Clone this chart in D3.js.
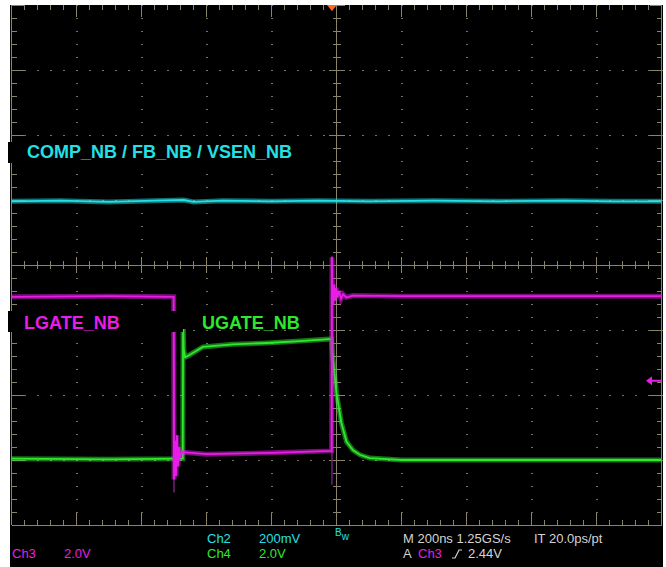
<!DOCTYPE html>
<meta charset="utf-8">
<head>
<title>NB gate waveforms</title>
<script src="https://d3js.org/d3.v7.min.js"></script>
</head>
<style>
body { margin: 0; background: #fff; }
svg { display: block; }
.label { font-family: "Liberation Sans", Arial, sans-serif; font-weight: bold; font-size: 18px; }
.readout { font-family: "Liberation Sans", Arial, sans-serif; font-size: 13px; }
</style>
<body>
<svg></svg>
<script>

// time in ns (200 ns/div), level in screen divisions from the centre line
let compTrace = [
  [-1000, 0.98], [-850, 0.99], [-700, 0.97], [-560, 0.99], [-470, 1.0], [-440, 0.97],
  [-350, 0.99], [-200, 0.98], [-60, 0.99], [100, 0.98], [300, 0.99], [500, 0.98],
  [700, 0.99], [850, 0.98], [1000, 0.98]
];

let lgateTrace = [
  [-1000, -0.49], [-700, -0.48], [-501, -0.49], [-500, -3.3], [-497, -2.7], [-494, -3.25],
  [-491, -2.62], [-488, -3.1], [-485, -2.8], [-481, -2.95], [-476, -2.88], [-400, -2.91],
  [-200, -2.89], [-15, -2.86], [-14, 0.12], [-13, -0.25], [-11, -0.6], [-8, -0.3],
  [-5, -0.55], [-1, -0.35], [3, -0.5], [8, -0.4], [14, -0.52], [20, -0.45], [30, -0.5],
  [50, -0.47], [200, -0.48], [600, -0.48], [1000, -0.48]
];

let ugateTrace = [
  [-1000, -2.98], [-700, -2.99], [-480, -2.98], [-473, -2.98], [-472, -0.85], [-470, -1.3],
  [-466, -1.42], [-451, -1.38], [-411, -1.26], [-319, -1.22], [-214, -1.2], [-113, -1.17],
  [-21, -1.14], [-15, -1.14], [-13, -1.34], [0, -1.97], [15, -2.43], [31, -2.72],
  [51, -2.85], [72, -2.92], [102, -2.97], [200, -3.0], [1000, -3.0]
];

// faint persistence of the LGATE edges: [time, top, bottom]
let lgateEdges = [[-500, -1.0, -3.5], [-14, 0.14, -3.38]];

let traceLabels = ["COMP_NB / FB_NB / VSEN_NB", "LGATE_NB", "UGATE_NB"];
let chanReadout = [["Ch2", "200mV"], ["Ch3", "2.0V"], ["Ch4", "2.0V"]];
let timeReadout = ["M 200ns 1.25GS/s", "IT 20.0ps/pt"];
let trigReadout = ["A", "Ch3", "2.44V"];
let triggerTime = -14;
let ch3Ground = -1.78;

let cyan = "#22e0e6", magenta = "#e81ee8", green = "#2ee82e";
let gridCol = "#8a8468", dotCol = "#77735c", textCol = "#d4d4d4";

let svg = d3.select("svg").attr("width", 666).attr("height", 567);

let x = d3.scaleLinear().domain([-1000, 1000]).range([11.5, 661.5]);
let y = d3.scaleLinear().domain([-4, 4]).range([525, 5]);

svg.append("rect").attr("x", 10).attr("y", 5).attr("width", 653).attr("height", 562).attr("fill", "#000");

// graticule
let grid = svg.append("g").attr("shape-rendering", "crispEdges");
let tMinor = d3.range(-1000, 1000.1, 40);
let vMinor = d3.range(-20, 20.1, 1).map(d => d / 5);
let isMajorT = t => Math.abs(t % 200) < 1e-6;
let isMajorV = v => Math.abs(v - Math.round(v)) < 1e-6;

// dotted lines
d3.range(-800, 801, 200).filter(t => t !== 0).forEach(t => {
  vMinor.forEach(v => grid.append("rect").attr("x", x(t) - 0.5).attr("y", y(v) - 0.5)
    .attr("width", 1.5).attr("height", 1.5).attr("fill", dotCol));
});
d3.range(-3, 4, 1).filter(v => v !== 0).forEach(v => {
  tMinor.forEach(t => grid.append("rect").attr("x", x(t) - 0.5).attr("y", y(v) - 0.5)
    .attr("width", 1.5).attr("height", 1.5).attr("fill", dotCol));
});

// border
grid.append("line").attr("x1", x(-1000)).attr("x2", x(-1000)).attr("y1", y(4)).attr("y2", y(-4)).attr("stroke", gridCol);
grid.append("line").attr("x1", x(1000)).attr("x2", x(1000)).attr("y1", y(4)).attr("y2", y(-4)).attr("stroke", gridCol);
grid.append("line").attr("x1", x(-1000)).attr("x2", x(1000)).attr("y1", y(-4)).attr("y2", y(-4)).attr("stroke", gridCol);

// edge ticks
vMinor.forEach(v => {
  let len = isMajorV(v) ? 12 : 5;
  grid.append("line").attr("x1", x(-1000)).attr("x2", x(-1000) + len).attr("y1", y(v)).attr("y2", y(v)).attr("stroke", gridCol);
  grid.append("line").attr("x1", x(1000)).attr("x2", x(1000) - len).attr("y1", y(v)).attr("y2", y(v)).attr("stroke", gridCol);
});
tMinor.forEach(t => {
  let len = isMajorT(t) ? 12 : 5;
  grid.append("line").attr("x1", x(t)).attr("x2", x(t)).attr("y1", y(4)).attr("y2", y(4) + len).attr("stroke", gridCol);
  grid.append("line").attr("x1", x(t)).attr("x2", x(t)).attr("y1", y(-4)).attr("y2", y(-4) - len).attr("stroke", gridCol);
});

// centre cross
grid.append("line").attr("x1", x(-1000)).attr("x2", x(1000)).attr("y1", y(0)).attr("y2", y(0)).attr("stroke", gridCol);
grid.append("line").attr("x1", x(0)).attr("x2", x(0)).attr("y1", y(4)).attr("y2", y(-4)).attr("stroke", gridCol);
tMinor.forEach(t => {
  let h = isMajorT(t) ? 8 : 4;
  grid.append("line").attr("x1", x(t)).attr("x2", x(t)).attr("y1", y(0) - h).attr("y2", y(0) + h).attr("stroke", gridCol);
});
vMinor.forEach(v => {
  let h = isMajorV(v) ? 8 : 4;
  grid.append("line").attr("x1", x(0) - h).attr("x2", x(0) + h).attr("y1", y(v)).attr("y2", y(v)).attr("stroke", gridCol);
});

// traces
let line = d3.line().x(d => x(d[0])).y(d => y(d[1]));

lgateEdges.forEach(e => {
  svg.append("line").attr("x1", x(e[0])).attr("x2", x(e[0])).attr("y1", y(e[1])).attr("y2", y(e[2]))
    .attr("stroke", "#70207a").attr("stroke-width", 1.5);
});

function drawTrace(data, col) {
  svg.append("path").datum(data).attr("d", line).attr("fill", "none")
    .attr("stroke", col).attr("stroke-width", 5).attr("stroke-opacity", 0.5);
  svg.append("path").datum(data).attr("d", line).attr("fill", "none")
    .attr("stroke", col).attr("stroke-width", 1.8);
}
drawTrace(compTrace, cyan);
drawTrace(ugateTrace, green);
drawTrace(lgateTrace, magenta);

// trace labels
let labelSpec = [
  {box: [8, 142, 300, 21], tx: 27, ty: 158, col: cyan},
  {box: [8, 311, 175, 21], tx: 24, ty: 329, col: magenta},
  {box: [183, 309, 128, 20], tx: 202, ty: 329, col: green}
];
labelSpec.forEach((s, i) => {
  svg.append("rect").attr("x", s.box[0]).attr("y", s.box[1]).attr("width", s.box[2]).attr("height", s.box[3]).attr("fill", "#000");
  svg.append("text").attr("class", "label").attr("x", s.tx).attr("y", s.ty).attr("fill", s.col).text(traceLabels[i]);
});

// trigger position marker and Ch3 ground marker
let tx = x(triggerTime);
svg.append("path").attr("d", `M${tx - 5},5L${tx + 5},5L${tx},11Z`).attr("fill", "#ff6a1c");
let gy = y(ch3Ground);
svg.append("path").attr("d", `M646,${gy}L652,${gy - 4.5}L652,${gy - 1}L661,${gy - 1}L661,${gy + 1}L652,${gy + 1}L652,${gy + 4.5}Z`).attr("fill", magenta);

// readouts
let r1 = 543, r2 = 558;
function txt(s, px, py, col) {
  return svg.append("text").attr("class", "readout").attr("x", px).attr("y", py).attr("fill", col).text(s);
}
txt(chanReadout[0][0], 207, r1, cyan); txt(chanReadout[0][1], 259, r1, cyan);
txt(chanReadout[1][0], 12, r2, magenta); txt(chanReadout[1][1], 64, r2, magenta);
txt(chanReadout[2][0], 207, r2, green); txt(chanReadout[2][1], 259, r2, green);
svg.append("text").attr("class", "readout").attr("x", 335).attr("y", 536).attr("fill", cyan)
  .style("font-size", "10px").text("B")
  .append("tspan").attr("dy", 4).text("w");
txt(timeReadout[0], 403, r1, textCol);
txt(timeReadout[1], 534, r1, textCol);
txt(trigReadout[0], 403, r2, textCol);
txt(trigReadout[1], 418, r2, magenta);
svg.append("path").attr("d", `M452,${r2}L455,${r2}L459,${r2 - 8}L462,${r2 - 8}`).attr("fill", "none").attr("stroke", textCol).attr("stroke-width", 1.2);
txt(trigReadout[2], 468, r2, textCol);

</script>
</body>
